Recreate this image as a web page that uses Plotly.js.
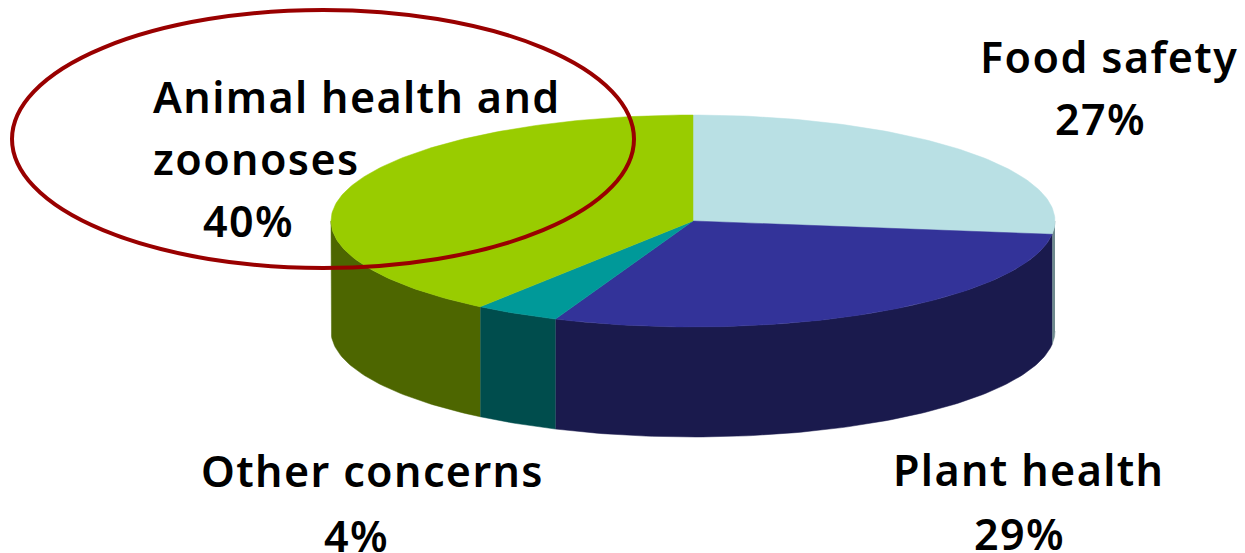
<!DOCTYPE html>
<html>
<head>
<meta charset="utf-8">
<script src="https://cdn.plot.ly/plotly-3.0.1.min.js"></script>
<style>
html,body{margin:0;padding:0;background:#fff;overflow:hidden}
.annotation-text{letter-spacing:1.4px}
</style>
</head>
<body>
<div id="chart" style="width:1245px;height:553px"></div>
<script>
const categories = ["Food safety", "Plant health", "Other concerns", "Animal health and zoonoses"];
const shares = [27, 29.2, 3.8, 40];
const topColors = ["#b9e0e4", "#333399", "#009999", "#99cc00"];
const sideColors = ["#6f8a8e", "#1a1a4d", "#004d4d", "#4d6600"];

// Label lines: text, x, y (middle), anchor
const labelLines = [
  ["Food safety", 1109, 56, "center"],
  ["27%", 1100, 118, "center"],
  ["Plant health", 1028, 469, "center"],
  ["29%", 1019, 533, "center"],
  ["Other concerns", 372, 470, "center"],
  ["4%", 356, 535, "center"],
  ["Animal health and", 151, 96, "left"],
  ["zoonoses", 151, 158, "left"],
  ["40%", 248, 220, "center"]
];

// Projection of the pie disc
const cx = 693, cy = 221, rx = 362, ry = 106, depth = 110;
// Highlight oval
const oval = {x0: 12, x1: 634, y0: 10, y1: 268, color: "#990000"};

const rad = d => d * Math.PI / 180;
const px = t => cx + rx * Math.sin(rad(t));
const py = t => cy - ry * Math.cos(rad(t));

function arc(a, b) {
  const out = [];
  const n = Math.max(2, Math.ceil(Math.abs(b - a)));
  for (let i = 0; i <= n; i++) out.push(a + (b - a) * i / n);
  return out;
}

const total = shares.reduce((s, v) => s + v, 0);
const sideTraces = [], topTraces = [];
let acc = 0;
shares.forEach((v, i) => {
  const a = acc / total * 360, b = (acc + v) / total * 360;
  acc += v;
  const ts = arc(a, b);
  topTraces.push({
    type: "scatter", mode: "lines", name: categories[i], hoverinfo: "skip",
    x: [cx, ...ts.map(px), cx], y: [cy, ...ts.map(py), cy],
    fill: "toself", fillcolor: topColors[i],
    line: {color: topColors[i], width: 0.5}
  });
  const lo = Math.max(a, 90), hi = Math.min(b, 270);
  if (hi > lo) {
    const fs = arc(lo, hi);
    const rs = fs.slice().reverse();
    sideTraces.push({
      type: "scatter", mode: "lines", name: categories[i] + " side", hoverinfo: "skip",
      x: [...fs.map(px), ...rs.map(px)],
      y: [...fs.map(py), ...rs.map(t => py(t) + depth)],
      fill: "toself", fillcolor: sideColors[i],
      line: {color: sideColors[i], width: 0.5}
    });
  }
});

const annotations = labelLines.map(([text, x, y, anchor]) => ({
  text, x, y, xref: "x", yref: "y", xanchor: anchor, yanchor: "middle",
  showarrow: false,
  font: {family: "Noto Sans, sans-serif", size: 43, color: "#000", weight: 600}
}));

const axis = {visible: false, fixedrange: true, showgrid: false, zeroline: false};
Plotly.newPlot("chart", [...sideTraces, ...topTraces], {
  width: 1245, height: 553,
  margin: {l: 0, r: 0, t: 0, b: 0},
  paper_bgcolor: "#fff", plot_bgcolor: "#fff",
  showlegend: false,
  xaxis: {...axis, range: [0, 1245]},
  yaxis: {...axis, range: [553, 0]},
  shapes: [{
    type: "circle", xref: "x", yref: "y", layer: "above",
    x0: oval.x0, x1: oval.x1, y0: oval.y0, y1: oval.y1,
    line: {color: oval.color, width: 4}, fillcolor: "rgba(0,0,0,0)"
  }],
  annotations
}, {displayModeBar: false, staticPlot: true});
</script>
</body>
</html>
